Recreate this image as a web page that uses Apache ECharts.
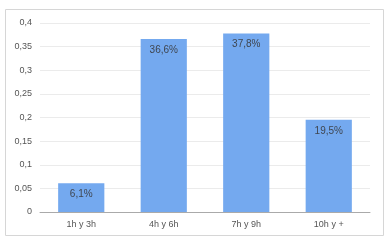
<!DOCTYPE html>
<html>
<head>
<meta charset="utf-8">
<script src="https://cdn.jsdelivr.net/npm/echarts@6/dist/echarts.min.js"></script>
<style>
  html, body { margin: 0; padding: 0; background: #fff; }
  #chart { width: 392px; height: 245px; }
</style>
</head>
<body>
<div id="chart"></div>
<script>
const categories = ['1h y 3h', '4h y 6h', '7h y 9h', '10h y +'];
const values = [0.061, 0.366, 0.378, 0.195];
const yTicks = { min: 0, max: 0.4, interval: 0.05 };

const toComma = (v) => String(v).replace('.', ',');

const chart = echarts.init(document.getElementById('chart'));
chart.setOption({
  animation: false,
  textStyle: { fontFamily: 'Liberation Sans, Arial, sans-serif' },
  graphic: [{
    type: 'rect',
    shape: { x: 5.5, y: 9.5, width: 378, height: 226 },
    style: { fill: 'none', stroke: '#d6d6d6', lineWidth: 1 },
    silent: true,
  }],
  grid: { left: 40, right: 22, top: 23, bottom: 33 },
  xAxis: {
    type: 'category',
    data: categories,
    axisLine: { lineStyle: { color: '#aaaaaa' } },
    axisTick: { show: false },
    axisLabel: { color: '#555555', fontSize: 9, margin: 8 },
  },
  yAxis: {
    type: 'value',
    min: yTicks.min,
    max: yTicks.max,
    interval: yTicks.interval,
    axisLine: { show: false },
    axisTick: { show: false },
    splitLine: { lineStyle: { color: '#ebebeb' } },
    axisLabel: {
      color: '#555555',
      fontSize: 9,
      margin: 8,
      formatter: (v) => toComma(+v.toFixed(2)),
    },
  },
  series: [{
    type: 'bar',
    data: values,
    barWidth: '56%',
    itemStyle: { color: '#74a9ef' },
    label: {
      show: true,
      position: 'insideTop',
      distance: 6,
      color: '#3f4650',
      fontSize: 10,
      formatter: (p) => toComma((p.value * 100).toFixed(1)) + '%',
    },
  }],
});
</script>
</body>
</html>
